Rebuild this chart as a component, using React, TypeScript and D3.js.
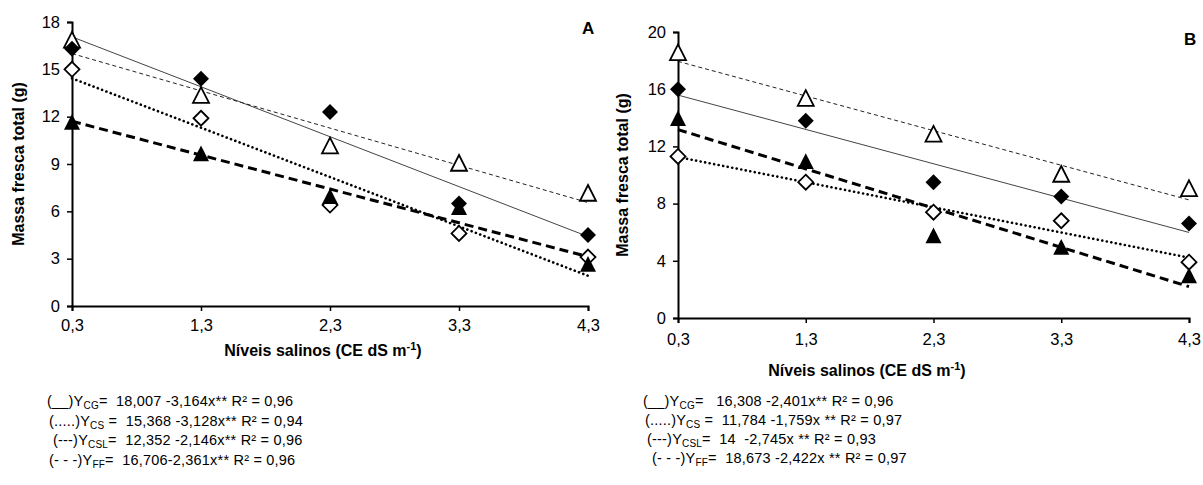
import * as d3 from "d3";
import { useEffect, useRef } from "react";

// salinity levels (CE dS m-1)
const levels = [0.3, 1.3, 2.3, 3.3, 4.3];
const tickLabels = ["0,3", "1,3", "2,3", "3,3", "4,3"];

// panel A observed values
const cgA = [16.3, 14.4, 12.3, 6.5, 4.5];
const csA = [15.0, 11.9, 6.4, 4.6, 3.1];
const cslA = [11.6, 9.6, 6.9, 6.2, 2.6];
const ffA = [16.8, 13.3, 10.1, 9.0, 7.1];

// panel B observed values
const cgB = [16.0, 13.8, 9.5, 8.5, 6.6];
const csB = [11.3, 9.5, 7.4, 6.8, 3.9];
const cslB = [13.9, 10.9, 5.7, 4.9, 2.9];
const ffB = [18.5, 15.3, 12.8, 10.0, 9.0];

// regression coefficients [intercept, slope]
const fitA = { cg: [18.007, -3.164], cs: [15.368, -3.128], csl: [12.352, -2.146], ff: [16.706, -2.361] };
const fitB = { cg: [16.308, -2.401], cs: [11.784, -1.759], csl: [14, -2.745], ff: [18.673, -2.422] };

const legendA = [
  { pre: "(__)Y", sub: "CG", post: "=  18,007 -3,164x** R² = 0,96", dx: 0 },
  { pre: "(.....)Y", sub: "CS", post: " =  15,368 -3,128x** R² = 0,94", dx: 2 },
  { pre: "(---)Y", sub: "CSL", post: "=  12,352 -2,146x** R² = 0,96", dx: 6 },
  { pre: "(- - -)Y", sub: "FF", post: "=  16,706-2,361x** R² = 0,96", dx: 2 },
];
const legendB = [
  { pre: "(__)Y", sub: "CG", post: "=   16,308 -2,401x** R² = 0,96", dx: 0 },
  { pre: "(.....)Y", sub: "CS", post: " =  11,784 -1,759x ** R² = 0,97", dx: 2 },
  { pre: "(---)Y", sub: "CSL", post: "=  14  -2,745x ** R² = 0,93", dx: 4 },
  { pre: "(- - -)Y", sub: "FF", post: "=  18,673 -2,422x ** R² = 0,97", dx: 9 },
];

const font = "'Liberation Sans', Arial, sans-serif";

type PanelProps = {
  left: number; right: number; top: number; bottom: number;
  yMax: number; yStep: number; letter: string; letterX: number; letterY: number;
  cg: number[]; cs: number[]; csl: number[]; ff: number[];
  fit: { [k: string]: number[] };
  ytitleX: number; xtitleX: number; xtitleY: number; xPad: number;
};

function Diamond({ x, y, filled }: { x: number; y: number; filled: boolean }) {
  const s = filled ? 8 : 7.5;
  return (
    <path d={`M${x},${y - s}L${x + s},${y}L${x},${y + s}L${x - s},${y}Z`}
      fill={filled ? "#000" : "#fff"} stroke="#000" strokeWidth={filled ? 0 : 1.8} />
  );
}

function Triangle({ x, y, filled }: { x: number; y: number; filled: boolean }) {
  const h = 9;
  return (
    <path d={`M${x},${y - h}L${x + 8},${y + h * 0.75}L${x - 8},${y + h * 0.75}Z`}
      fill={filled ? "#000" : "#fff"} stroke="#000" strokeWidth={filled ? 0 : 1.8} />
  );
}

function Panel(p: PanelProps) {
  const xRef = useRef<SVGGElement>(null);
  const yRef = useRef<SVGGElement>(null);
  const x = d3.scaleLinear().domain([0.3, 4.3]).range([p.left, p.right]);
  const y = d3.scaleLinear().domain([0, p.yMax]).range([p.bottom, p.top]);

  useEffect(() => {
    const ax = d3.axisBottom(x).tickValues(levels).tickSize(5).tickPadding(p.xPad)
      .tickFormat((d, i) => tickLabels[i]);
    const ay = d3.axisLeft(y).tickValues(d3.range(0, p.yMax + 0.01, p.yStep)).tickSize(5).tickPadding(7)
      .tickFormat(d => String(d));
    for (const [ref, axis] of [[xRef, ax], [yRef, ay]] as any) {
      const g = d3.select(ref.current);
      g.call(axis);
      g.select(".domain").attr("stroke", "#000").attr("stroke-width", 2);
      g.selectAll(".tick line").attr("stroke", "#000").attr("stroke-width", 1.5);
      g.selectAll(".tick text").attr("font-family", font).attr("font-size", 16.5).attr("fill", "#000");
    }
  }, []);

  const fitLine = (k: string) => {
    const [a, b] = p.fit[k];
    return d3.line<number>().x(v => x(v)).y(v => y(a + b * v))([0.3, 4.3]) as string;
  };

  return (
    <g>
      <path d={fitLine("cg")} fill="none" stroke="#444" strokeWidth={1} />
      <path d={fitLine("ff")} fill="none" stroke="#222" strokeWidth={1} strokeDasharray="4,3" />
      <path d={fitLine("cs")} fill="none" stroke="#000" strokeWidth={2.6} strokeDasharray="0.1,4.5" strokeLinecap="round" />
      <path d={fitLine("csl")} fill="none" stroke="#000" strokeWidth={3} strokeDasharray="9,5" />
      <g ref={xRef} transform={`translate(0,${p.bottom})`} />
      <g ref={yRef} transform={`translate(${p.left},0)`} />
      {levels.map((l, i) => <Diamond key={"cs" + i} x={x(l)} y={y(p.cs[i])} filled={false} />)}
      {levels.map((l, i) => <Triangle key={"ff" + i} x={x(l)} y={y(p.ff[i])} filled={false} />)}
      {levels.map((l, i) => <Triangle key={"csl" + i} x={x(l)} y={y(p.csl[i])} filled={true} />)}
      {levels.map((l, i) => <Diamond key={"cg" + i} x={x(l)} y={y(p.cg[i])} filled={true} />)}
      <text x={p.letterX} y={p.letterY} fontFamily={font} fontWeight="bold" fontSize={17}>{p.letter}</text>
      <text transform={`translate(${p.ytitleX},${(p.top + p.bottom) / 2}) rotate(-90)`} textAnchor="middle"
        fontFamily={font} fontWeight="bold" fontSize={16}>Massa fresca total (g)</text>
      <text x={p.xtitleX} y={p.xtitleY} textAnchor="middle" fontFamily={font} fontWeight="bold" fontSize={16}>
        Níveis salinos (CE dS m<tspan dy={-6} fontSize={11}>-1</tspan><tspan dy={6}>)</tspan>
      </text>
    </g>
  );
}

function Legend({ rows, x, y0, step }: { rows: typeof legendA; x: number; y0: number; step: number }) {
  return (
    <g fontFamily={font} fontSize={14.5} fill="#000" letterSpacing={0.2} style={{ whiteSpace: "pre" }}>
      {rows.map((r, i) => (
        <text key={i} x={x + r.dx} y={y0 + i * step} xmlSpace="preserve">
          {r.pre}<tspan dy={3} fontSize={10}>{r.sub}</tspan><tspan dy={-3}>{r.post}</tspan>
        </text>
      ))}
    </g>
  );
}

export default function App() {
  return (
    <svg width={1203} height={485} style={{ position: "absolute", left: 0, top: 0, background: "#fff" }}>
      <Panel left={72} right={588} top={22} bottom={306} yMax={18} yStep={3} letter="A" letterX={582} letterY={34}
        cg={cgA} cs={csA} csl={cslA} ff={ffA} fit={fitA} ytitleX={24} xtitleX={323} xtitleY={356} xPad={8} />
      <Panel left={678} right={1189} top={32} bottom={318} yMax={20} yStep={4} letter="B" letterX={1184} letterY={45}
        cg={cgB} cs={csB} csl={cslB} ff={ffB} fit={fitB} ytitleX={628} xtitleX={867} xtitleY={376} xPad={10} />
      <Legend rows={legendA} x={47} y0={406} step={19.5} />
      <Legend rows={legendB} x={643} y0={406} step={19} />
    </svg>
  );
}
